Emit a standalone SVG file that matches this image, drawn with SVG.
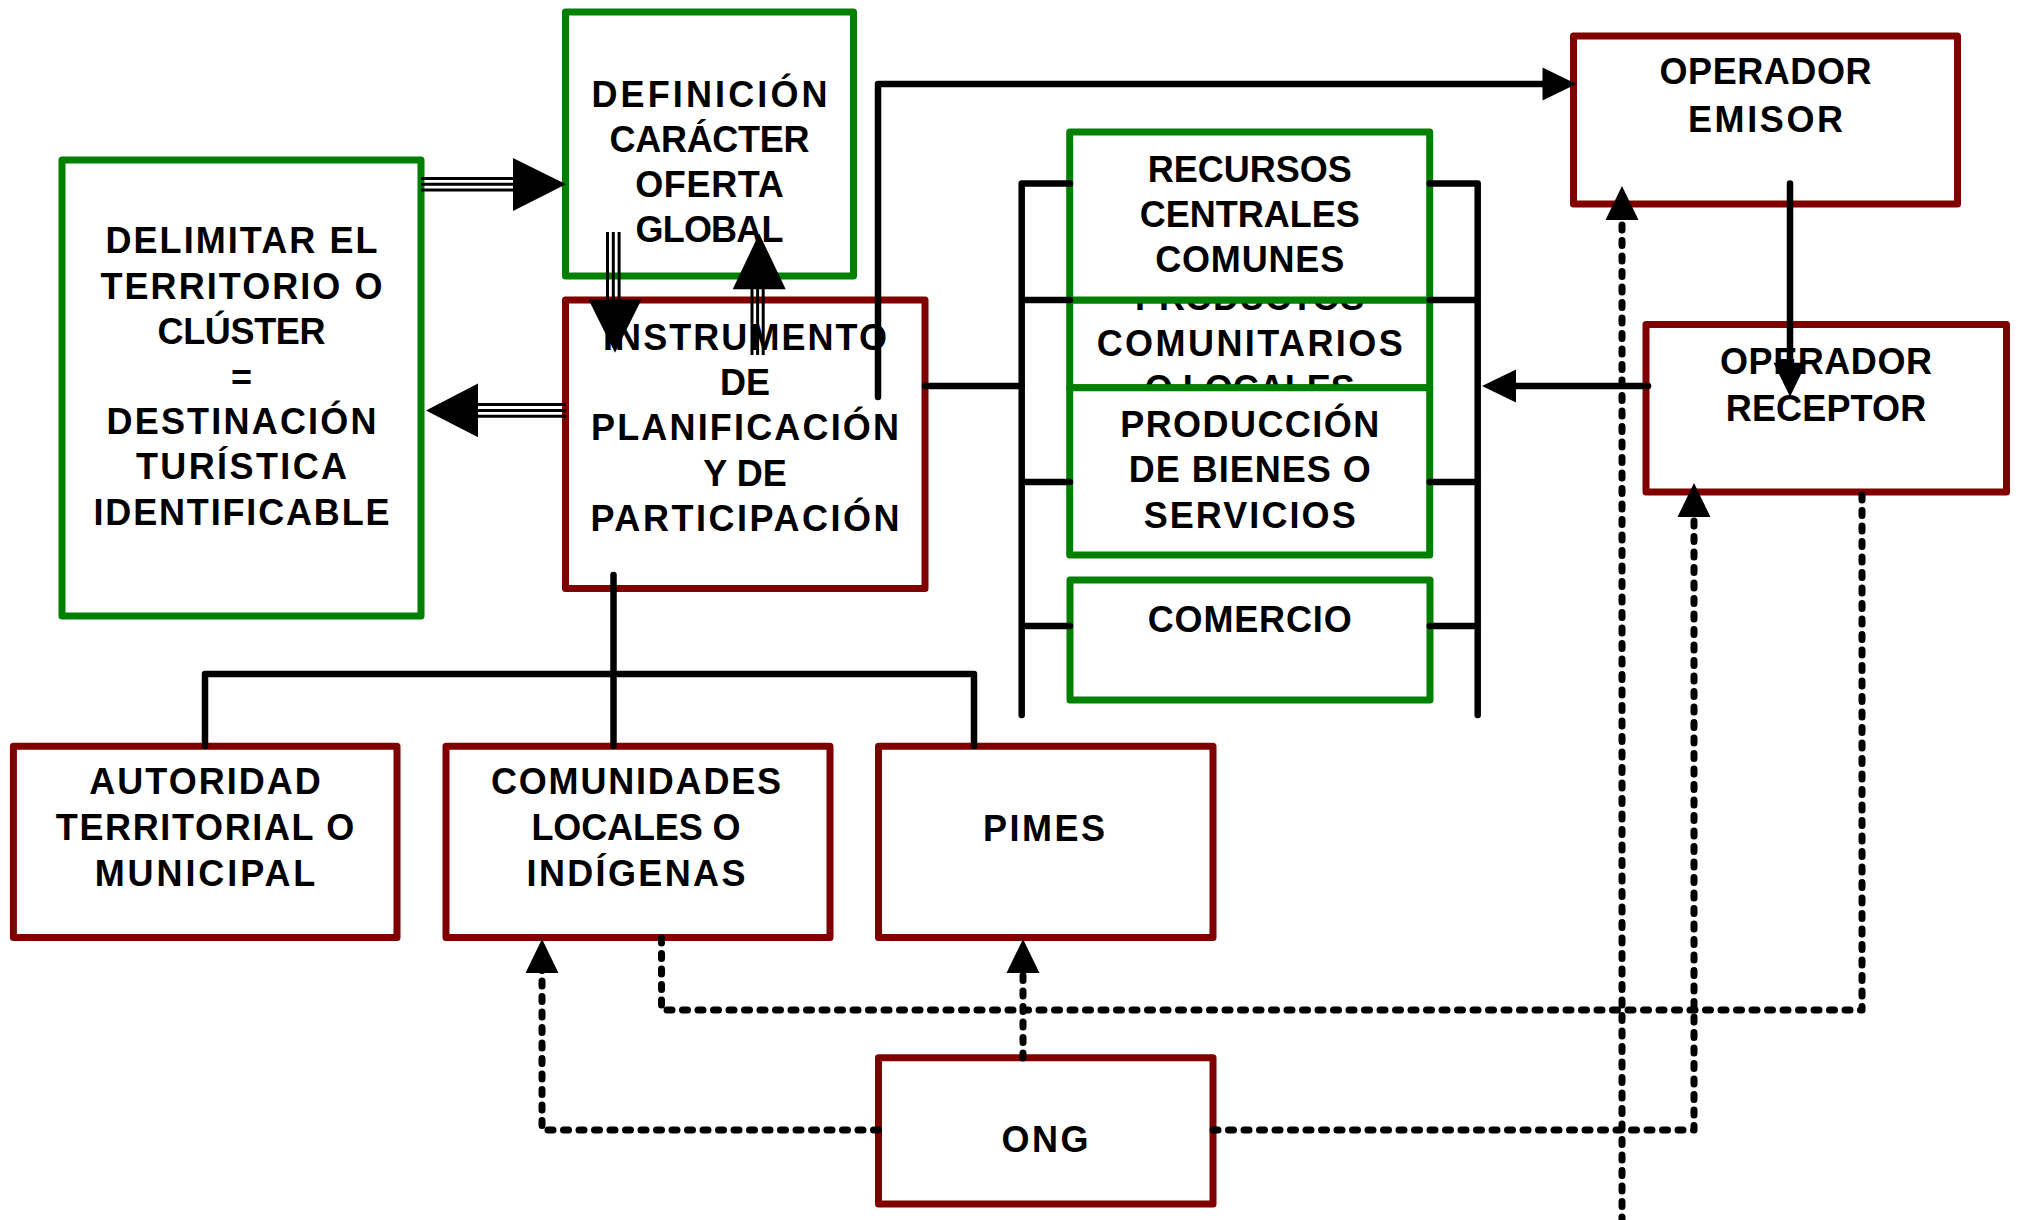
<svg xmlns="http://www.w3.org/2000/svg" width="2024" height="1220" viewBox="0 0 2024 1220">
<style>
  .box { fill: #ffffff; stroke-width: 7; stroke-linejoin: round; }
  .g { stroke: #008000; }
  .r { stroke: #800000; }
  .t { font-family: "Liberation Sans", Arial, sans-serif; font-weight: bold; font-size: 36px; fill: #000000; text-anchor: middle; }
  .solid { fill: none; stroke: #000000; stroke-width: 6.5; stroke-linecap: round; stroke-linejoin: round; }
  .dash { fill: none; stroke: #000000; stroke-width: 7; stroke-linecap: round; stroke-linejoin: round; stroke-dasharray: 5 10.5; }
  .triple { stroke: #000000; stroke-width: 3; }
  .head { fill: #000000; }
</style>
<defs>
  <marker id="arr" markerUnits="userSpaceOnUse" markerWidth="34" markerHeight="33" refX="24" refY="16.5" orient="auto" overflow="visible">
    <path d="M0,0 L34,16.5 L0,33 z" fill="#000000"/>
  </marker>
</defs>
<rect width="2024" height="1220" fill="#ffffff"/>

<g id="delimitar">
  <rect class="box g" x="62" y="160" width="359" height="456"/>
  <text class="t" x="241.5" y="253" textLength="272" lengthAdjust="spacing">DELIMITAR EL</text>
  <text class="t" x="241.5" y="298.5" textLength="282" lengthAdjust="spacing">TERRITORIO O</text>
  <text class="t" x="241.5" y="344" textLength="168" lengthAdjust="spacing">CLÚSTER</text>
  <text class="t" x="241.5" y="390">=</text>
  <text class="t" x="241.5" y="433.5" textLength="270" lengthAdjust="spacing">DESTINACIÓN</text>
  <text class="t" x="241.5" y="479" textLength="211" lengthAdjust="spacing">TURÍSTICA</text>
  <text class="t" x="241.5" y="524.5" textLength="296" lengthAdjust="spacing">IDENTIFICABLE</text>
</g>

<g id="definicion">
  <rect class="box g" x="565.5" y="12" width="288" height="264"/>
  <text class="t" x="709.5" y="107" textLength="236" lengthAdjust="spacing">DEFINICIÓN</text>
  <text class="t" x="709.5" y="151.5" textLength="200" lengthAdjust="spacing">CARÁCTER</text>
  <text class="t" x="709.5" y="196.5" textLength="148.6" lengthAdjust="spacing">OFERTA</text>
  <text class="t" x="709.5" y="242" textLength="148" lengthAdjust="spacing">GLOBAL</text>
</g>

<g id="instrumento">
  <rect class="box r" x="565.5" y="300" width="359.5" height="288.5"/>
  <text class="t" x="745" y="350" textLength="284" lengthAdjust="spacing">INSTRUMENTO</text>
  <text class="t" x="745" y="395">DE</text>
  <text class="t" x="745" y="440" textLength="308" lengthAdjust="spacing">PLANIFICACIÓN</text>
  <text class="t" x="745" y="485.5">Y DE</text>
  <text class="t" x="745" y="530.5" textLength="309" lengthAdjust="spacing">PARTICIPACIÓN</text>
</g>

<g id="productos">
  <rect class="box g" x="1069.7" y="300" width="360" height="87.8"/>
  <text class="t" x="1249.7" y="310">PRODUCTOS</text>
  <text class="t" x="1249.7" y="355.5" textLength="306" lengthAdjust="spacing">COMUNITARIOS</text>
  <text class="t" x="1249.7" y="401">O LOCALES</text>
</g>

<g id="recursos">
  <rect class="box g" x="1069.7" y="132" width="360" height="168"/>
  <text class="t" x="1249.7" y="181.7" textLength="204" lengthAdjust="spacing">RECURSOS</text>
  <text class="t" x="1249.7" y="226.7" textLength="220" lengthAdjust="spacing">CENTRALES</text>
  <text class="t" x="1249.7" y="272.2" textLength="189" lengthAdjust="spacing">COMUNES</text>
</g>

<g id="produccion">
  <rect class="box g" x="1069.7" y="387.8" width="360" height="167.2"/>
  <text class="t" x="1249.7" y="436.7" textLength="259" lengthAdjust="spacing">PRODUCCIÓN</text>
  <text class="t" x="1249.7" y="481.7" textLength="242" lengthAdjust="spacing">DE BIENES O</text>
  <text class="t" x="1249.7" y="527.5" textLength="212" lengthAdjust="spacing">SERVICIOS</text>
</g>

<g id="comercio">
  <rect class="box g" x="1070" y="580" width="360" height="120"/>
  <text class="t" x="1249.7" y="631.7" textLength="204" lengthAdjust="spacing">COMERCIO</text>
</g>

<g id="emisor">
  <rect class="box r" x="1573.5" y="36" width="384" height="168"/>
  <text class="t" x="1765.5" y="84.2" textLength="212" lengthAdjust="spacing">OPERADOR</text>
  <text class="t" x="1765.5" y="131.7" textLength="155" lengthAdjust="spacing">EMISOR</text>
</g>

<g id="receptor">
  <rect class="box r" x="1646" y="324.5" width="360.5" height="167.5"/>
  <text class="t" x="1826" y="373.7" textLength="212" lengthAdjust="spacing">OPERADOR</text>
  <text class="t" x="1826" y="421.1" textLength="200.5" lengthAdjust="spacing">RECEPTOR</text>
</g>

<g id="autoridad">
  <rect class="box r" x="13.4" y="746.3" width="383.6" height="191.2"/>
  <text class="t" x="205" y="793.7" textLength="231.5" lengthAdjust="spacing">AUTORIDAD</text>
  <text class="t" x="205" y="839.5" textLength="298.5" lengthAdjust="spacing">TERRITORIAL O</text>
  <text class="t" x="205" y="886.2" textLength="220.7" lengthAdjust="spacing">MUNICIPAL</text>
</g>

<g id="comunidades">
  <rect class="box r" x="446" y="746.3" width="384" height="191.2"/>
  <text class="t" x="636" y="793.7" textLength="290" lengthAdjust="spacing">COMUNIDADES</text>
  <text class="t" x="636" y="839.5" textLength="209" lengthAdjust="spacing">LOCALES O</text>
  <text class="t" x="636" y="886.2" textLength="219" lengthAdjust="spacing">INDÍGENAS</text>
</g>

<g id="pimes">
  <rect class="box r" x="878.5" y="746.3" width="334.5" height="191.2"/>
  <text class="t" x="1044" y="841" textLength="122" lengthAdjust="spacing">PIMES</text>
</g>

<g id="ong">
  <rect class="box r" x="878.5" y="1057.7" width="334.5" height="146.3"/>
  <text class="t" x="1045" y="1152" textLength="87" lengthAdjust="spacing">ONG</text>
</g>

<g id="connectors">
  <g class="triple">
    <line x1="421" y1="178.5" x2="516" y2="178.5"/>
    <line x1="421" y1="184.3" x2="516" y2="184.3"/>
    <line x1="421" y1="190.1" x2="516" y2="190.1"/>
    <line x1="476" y1="404.6" x2="566" y2="404.6"/>
    <line x1="476" y1="410.4" x2="566" y2="410.4"/>
    <line x1="476" y1="416.2" x2="566" y2="416.2"/>
    <line x1="607.5" y1="232" x2="607.5" y2="301"/>
    <line x1="613.3" y1="232" x2="613.3" y2="301"/>
    <line x1="619.1" y1="232" x2="619.1" y2="301"/>
    <line x1="752" y1="288" x2="752" y2="355"/>
    <line x1="757.6" y1="288" x2="757.6" y2="355"/>
    <line x1="763.2" y1="288" x2="763.2" y2="355"/>
  </g>
  <polygon class="head" points="513,158 566,184.3 513,211"/>
  <polygon class="head" points="478,383.6 426,410.4 478,437.2"/>
  <polygon class="head" points="588.5,299.5 641.5,299.5 615,352.7"/>
  <polygon class="head" points="732.7,289.3 785.7,289.3 759.2,233.5"/>

  <path class="solid" d="M878,397 V84 H1566.5" marker-end="url(#arr)"/>
  <path class="solid" d="M1790,183.5 V386.7" marker-end="url(#arr)"/>
  <path class="solid" d="M1648,386 H1492" marker-end="url(#arr)"/>
  <path class="solid" d="M925,386 H1021.7"/>
  <path class="solid" d="M1070,183.5 H1021.7 V715 M1021.7,300 H1070 M1021.7,482 H1070 M1021.7,626 H1070"/>
  <path class="solid" d="M1429.7,183.5 H1477.7 V715 M1477.7,300 H1429.7 M1477.7,482 H1429.7 M1477.7,626 H1429.7"/>
  <path class="solid" d="M613.5,575 V746"/>
  <path class="solid" d="M205,746 V674 H974 V746"/>

  <path class="dash" d="M878.5,1130 H542 V949" marker-end="url(#arr)"/>
  <path class="dash" d="M1023,1058 V949" marker-end="url(#arr)"/>
  <path class="dash" d="M661.5,938 V1010 H1862 V490"/>
  <path class="dash" d="M1213,1130 H1694 V493" marker-end="url(#arr)"/>
  <path class="dash" d="M1622,1222 V196" marker-end="url(#arr)"/>
</g>
</svg>
